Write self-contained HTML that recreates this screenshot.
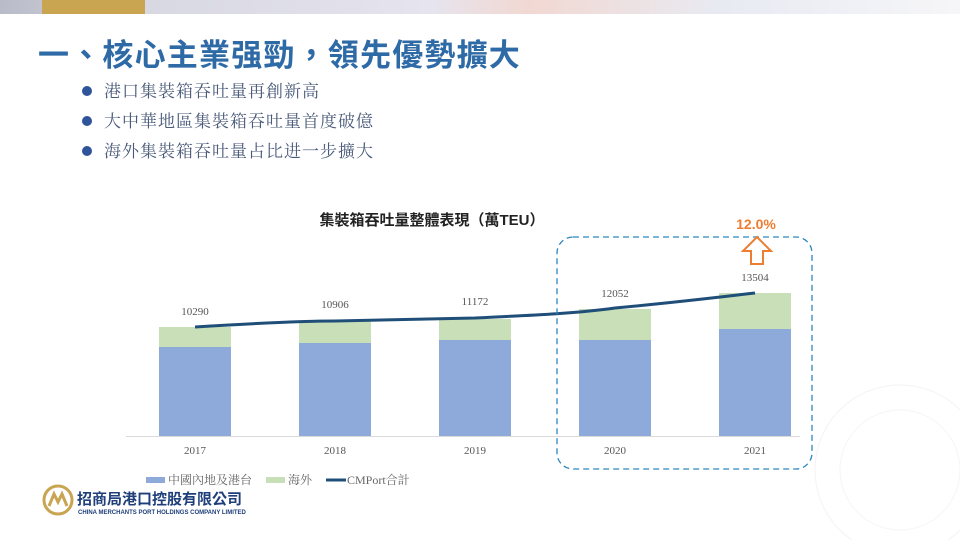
<!DOCTYPE html>
<html><head><meta charset="utf-8"><style>
body{margin:0;width:960px;height:540px;overflow:hidden;background:#fff;font-family:"Liberation Sans","Noto Sans CJK TC",sans-serif;position:relative}
.top{position:absolute;left:0;top:0;width:960px;height:14px;background:linear-gradient(90deg,#b8bcc8 0%,#d8d8e2 15%,#e6e4ee 45%,#f2d8d2 55%,#e8eaf2 75%,#f6f6f8 100%)}
.gold{position:absolute;left:42px;top:0;width:103px;height:14px;background:#c9a552}
h1{position:absolute;left:38px;top:30px;margin:0;font-size:31px;font-weight:bold;color:#2e6aa6;font-family:"Liberation Sans","Noto Sans CJK TC",sans-serif;letter-spacing:1.2px}
ul{position:absolute;left:82px;top:77px;margin:0;padding:0;list-style:none}
li{font-size:17px;color:#4a5a7a;height:30px;line-height:30px;font-family:"Liberation Serif","Noto Serif CJK SC",serif;letter-spacing:1px}
li:before{content:"";display:inline-block;width:10px;height:10px;border-radius:50%;background:#2f549a;margin-right:12px;vertical-align:1px}
</style></head><body>
<div class="top"></div><div class="gold"></div>
<h1>一、核心主業强勁，領先優勢擴大</h1>
<ul><li>港口集裝箱吞吐量再創新高</li><li>大中華地區集裝箱吞吐量首度破億</li><li>海外集裝箱吞吐量占比进一步擴大</li></ul>
<svg width="960" height="540" style="position:absolute;left:0;top:0">
<text x="432" y="225" text-anchor="middle" font-size="15" font-weight="bold" fill="#222" font-family="Liberation Sans,Noto Sans CJK TC,sans-serif">集裝箱吞吐量整體表現（萬TEU）</text>
<line x1="126" y1="436.5" x2="800" y2="436.5" stroke="#d9d9d9"/>
<g fill="#c9dfb8">
<rect x="159" y="327" width="72" height="20"/><rect x="299" y="321" width="72" height="22"/><rect x="439" y="319" width="72" height="21"/><rect x="579" y="309" width="72" height="31"/><rect x="719" y="293" width="72" height="36"/></g>
<g fill="#8eaadb">
<rect x="159" y="347" width="72" height="89"/><rect x="299" y="343" width="72" height="93"/><rect x="439" y="340" width="72" height="96"/><rect x="579" y="340" width="72" height="96"/><rect x="719" y="329" width="72" height="107"/></g>
<path d="M195 327 C260 323 300 321 335 321 C400 320 440 319 475 318 C540 315 580 313 615 308 C680 302 720 297 755 293" fill="none" stroke="#1f4e79" stroke-width="3"/>
<g font-family="Liberation Serif,serif" font-size="11" fill="#555" text-anchor="middle">
<text x="195" y="315">10290</text><text x="335" y="308">10906</text><text x="475" y="305">11172</text><text x="615" y="297">12052</text><text x="755" y="281">13504</text>
<text x="195" y="454">2017</text><text x="335" y="454">2018</text><text x="475" y="454">2019</text><text x="615" y="454">2020</text><text x="755" y="454">2021</text></g>
<rect x="557" y="237" width="255" height="232" rx="16" fill="none" stroke="#2e86c1" stroke-width="1.3" stroke-dasharray="6,4"/>
<text x="756" y="229" text-anchor="middle" font-size="14" font-weight="bold" fill="#ed7d31">12.0%</text>
<path d="M757 237 L771 251 L763 251 L763 264 L751 264 L751 251 L743 251 Z" fill="#fff" stroke="#ed7d31" stroke-width="2"/>
<rect x="146" y="477" width="19" height="6" fill="#8eaadb"/>
<text x="168" y="484" font-size="12" fill="#666" font-family="Liberation Serif,Noto Serif CJK SC,serif">中國內地及港台</text>
<rect x="266" y="477" width="19" height="6" fill="#c9dfb8"/>
<text x="288" y="484" font-size="12" fill="#666" font-family="Liberation Serif,Noto Serif CJK SC,serif">海外</text>
<line x1="326" y1="480" x2="346" y2="480" stroke="#1f4e79" stroke-width="3"/>
<text x="347" y="484" font-size="12" fill="#666" font-family="Liberation Serif,Noto Serif CJK SC,serif">CMPort合計</text>
<circle cx="58" cy="500" r="14" fill="none" stroke="#c9a552" stroke-width="3"/>
<path d="M49 506 L54 494 L58 502 L62 494 L67 506" fill="none" stroke="#c9a552" stroke-width="3"/>
<text x="77" y="504" font-size="15" font-weight="bold" fill="#1f3f7a" font-family="Liberation Sans,Noto Sans CJK TC,sans-serif">招商局港口控股有限公司</text>
<text x="78" y="514" font-size="6" font-weight="bold" fill="#1f3f7a">CHINA MERCHANTS PORT HOLDINGS COMPANY LIMITED</text>
<circle cx="900" cy="470" r="85" fill="none" stroke="#f3f3f3" stroke-width="1"/>
<circle cx="900" cy="470" r="60" fill="none" stroke="#f5f5f5" stroke-width="1"/>
</svg>
</body></html>
